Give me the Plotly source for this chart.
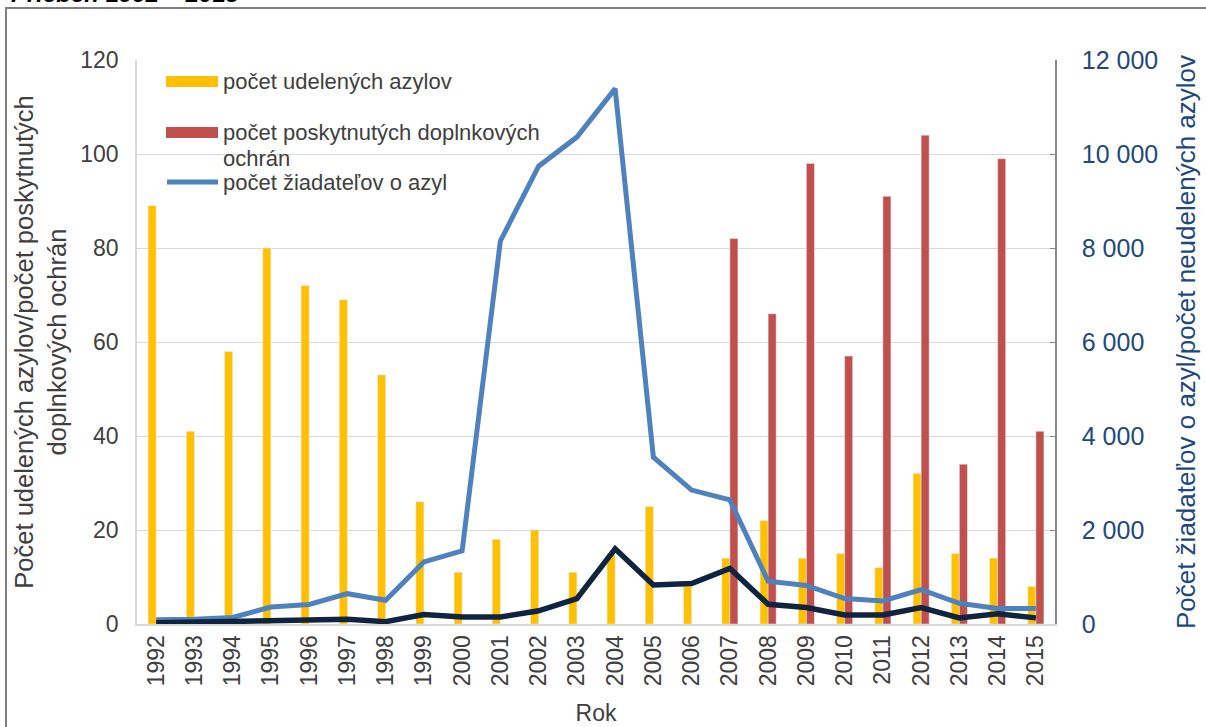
import plotly.graph_objects as go

years = [str(y) for y in range(1992, 2016)]
udelene_azyly = [89, 41, 58, 80, 72, 69, 53, 26, 11, 18, 20, 11, 15, 25, 8, 14, 22, 14, 15, 12, 32, 15, 14, 8]
doplnkove_ochrany = [None] * 15 + [82, 66, 98, 57, 91, 104, 34, 99, 41]
ziadatelia = [90, 100, 140, 360, 415, 645, 505, 1320, 1555, 8150, 9740, 10360, 11390, 3550, 2850, 2640, 910, 820, 540, 490, 730, 440, 330, 330]
neudelene_azyly = [25, 40, 50, 70, 80, 100, 50, 200, 150, 150, 280, 540, 1600, 830, 860, 1180, 420, 350, 190, 190, 350, 130, 220, 130]

left_ticks = [0, 20, 40, 60, 80, 100, 120]
right_ticks = [0, 2000, 4000, 6000, 8000, 10000, 12000]
right_tick_text = ["0", "2 000", "4 000", "6 000", "8 000", "10 000", "12 000"]

YELLOW = "#FFC000"
RED = "#C0504D"
BLUE = "#4F81BD"
NAVY = "#10243F"
TXT = "#404040"
RTXT = "#1F497D"
FONT = "Liberation Sans, Arial, sans-serif"

W, H = 1206, 727
L, R, T, B = 137, 1055, 60, 624


def px(x):
    return (x - L) / (R - L)


def py(y):
    return (B - y) / (B - T)


fig = go.Figure()
fig.add_trace(go.Bar(x=years, y=udelene_azyly, name="počet udelených azylov",
                     marker_color=YELLOW, offsetgroup="a", showlegend=False))
fig.add_trace(go.Bar(x=years, y=doplnkove_ochrany, name="počet poskytnutých doplnkových ochrán",
                     marker_color=RED, offsetgroup="b", showlegend=False))
fig.add_trace(go.Scatter(x=years, y=ziadatelia, name="počet žiadateľov o azyl", mode="lines",
                         line=dict(color=BLUE, width=5), yaxis="y2", showlegend=False))
fig.add_trace(go.Scatter(x=years, y=neudelene_azyly, name="počet neudelených azylov", mode="lines",
                         line=dict(color=NAVY, width=5.5), yaxis="y2", showlegend=False))

fig.update_layout(
    width=W, height=H,
    margin=dict(l=L, r=W - R, t=T, b=H - B, autoexpand=False),
    paper_bgcolor="white", plot_bgcolor="white",
    font=dict(family=FONT, size=20, color=TXT),
    barmode="group", bargap=0.58, bargroupgap=0,
    xaxis=dict(
        type="category", tickangle=-90, tickfont=dict(size=23, color=TXT),
        showgrid=False, showline=True, linecolor="#D9D9D9", linewidth=2,
        ticks="", ticklabelstandoff=0,
        title=dict(text="Rok", font=dict(size=23, color=TXT), standoff=20),
    ),
    yaxis=dict(
        range=[0, 120], tickvals=left_ticks, tickfont=dict(size=23, color=TXT),
        showgrid=True, gridcolor="#D9D9D9", gridwidth=1.3,
        showline=True, linecolor="#D9D9D9", linewidth=1.5, zeroline=False,
        ticks="", ticklabelstandoff=12,
        title=dict(text="Počet udelených azylov/počet poskytnutých<br>doplnkových ochrán",
                   font=dict(size=25.5, color=TXT), standoff=6),
    ),
    yaxis2=dict(
        range=[0, 12000], tickvals=right_ticks, ticktext=right_tick_text,
        overlaying="y", side="right", tickfont=dict(size=25, color=RTXT),
        showgrid=False, showline=True, linecolor="#868686", linewidth=1.5, zeroline=False,
        ticks="inside", ticklen=5, tickcolor="#868686", ticklabelstandoff=20,
        title=dict(text="Počet žiadateľov o azyl/počet neudelených azylov",
                   font=dict(size=26, color=RTXT), standoff=20),
    ),
)

# outer frame
fig.add_shape(type="rect", xref="paper", yref="paper",
              x0=px(6), x1=px(W + 40), y0=py(H + 40), y1=py(8),
              line=dict(color="#7F7F7F", width=2), fillcolor="rgba(0,0,0,0)", layer="above")

# title at the top (clipped by the page edge as in the source)
fig.add_annotation(text="<b><i>Priebeh 1992 – 2015</i></b>", xref="paper", yref="paper",
                   x=px(9), y=py(9), xanchor="left", yanchor="bottom", showarrow=False,
                   font=dict(size=24, color="black", family=FONT))

# legend
leg = [
    ("rect", YELLOW, 81.5, ["počet udelených azylov"]),
    ("rect", RED, 132.5, ["počet poskytnutých doplnkových", "ochrán"]),
    ("line", BLUE, 182, ["počet žiadateľov o azyl"]),
]
for kind, col, yc, lines in leg:
    if kind == "rect":
        fig.add_shape(type="rect", xref="paper", yref="paper",
                      x0=px(166), x1=px(218), y0=py(yc + 5.5), y1=py(yc - 5.5),
                      line=dict(width=0), fillcolor=col)
    else:
        fig.add_shape(type="line", xref="paper", yref="paper",
                      x0=px(167), x1=px(218), y0=py(yc), y1=py(yc),
                      line=dict(color=col, width=5))
    for i, label in enumerate(lines):
        fig.add_annotation(text=label, xref="paper", yref="paper", x=px(221), y=py(yc + 26 * i),
                           xanchor="left", yanchor="middle", align="left", showarrow=False,
                           font=dict(size=22, color=TXT, family=FONT))

fig.write_html("out.html", config={"displayModeBar": False},
               post_script="document.body.style.margin='0';")
